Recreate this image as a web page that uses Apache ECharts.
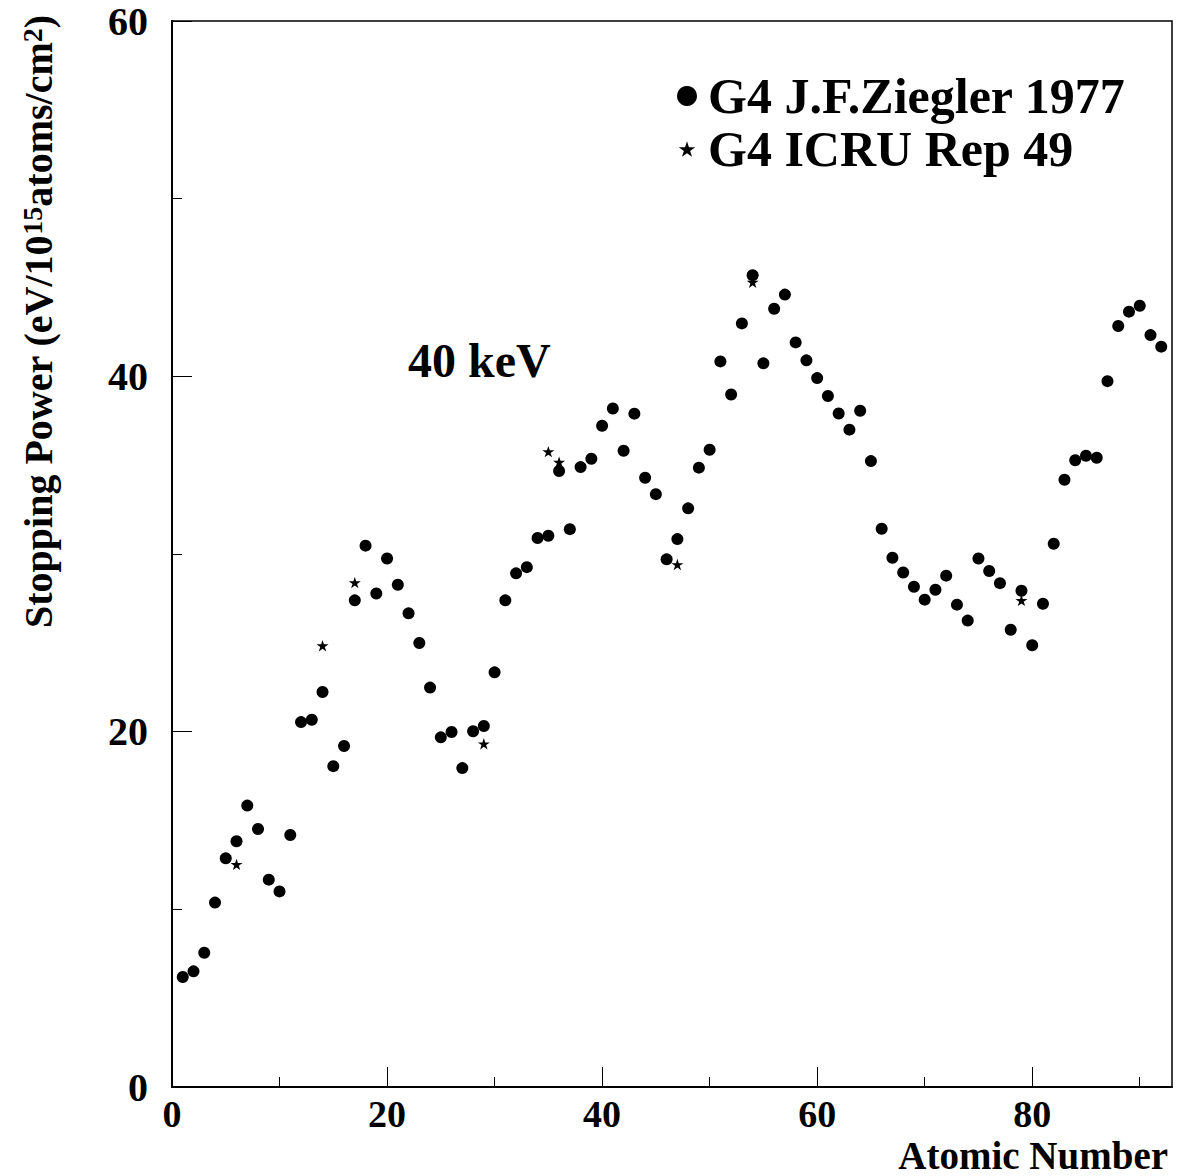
<!DOCTYPE html>
<html>
<head>
<meta charset="utf-8">
<script src="https://cdn.jsdelivr.net/npm/echarts@6/dist/echarts.min.js"></script>
<style>html,body{margin:0;padding:0;background:#fff;}#c{width:1182px;height:1176px;}</style>
</head>
<body>
<div id="c"></div>
<script>
// ---- data ----
const atomicNumbers = [1,2,3,4,5,6,7,8,9,10,11,12,13,14,15,16,17,18,19,20,21,22,23,24,25,26,27,28,29,30,31,32,33,34,35,36,37,38,39,40,41,42,43,44,45,46,47,48,49,50,51,52,53,54,55,56,57,58,59,60,61,62,63,64,65,66,67,68,69,70,71,72,73,74,75,76,77,78,79,80,81,82,83,84,85,86,87,88,89,90,91,92];
const zieglerValues = [6.19,6.51,7.56,10.38,12.87,13.83,15.84,14.52,11.67,11.01,14.18,20.54,20.67,22.23,18.06,19.19,27.39,30.47,27.78,29.75,28.27,26.66,24.99,22.48,19.68,19.98,17.95,20.02,20.32,23.34,27.39,28.91,29.26,30.90,31.03,34.67,31.40,34.89,35.36,37.22,38.19,35.81,37.90,34.29,33.37,29.70,30.84,32.57,34.86,35.87,40.84,38.98,42.98,45.69,40.73,43.80,44.60,41.91,40.90,39.90,38.89,37.91,37.00,38.06,35.23,31.42,29.79,28.96,28.16,27.43,27.99,28.78,27.15,26.25,29.75,29.04,28.36,25.74,27.93,24.86,27.20,30.58,34.18,35.28,35.53,35.42,39.73,42.83,43.64,43.97,42.32,41.67];
const icruZ = [6,14,17,29,35,36,47,54,79];
const icruValues = [12.53,24.84,28.39,19.32,35.76,35.17,29.41,45.30,27.39];
const seriesNames = ['G4 J.F.Ziegler 1977','G4 ICRU Rep 49'];
const xTickValues = [0,20,40,60,80];
const yTickValues = [0,20,40,60];
const xMinorTickValues = [10,30,50,70,90];
const yMinorTickValues = [10,30,50];
const energyLabel = '40 keV';
const xAxisTitle = 'Atomic Number';

const FONT = '"Liberation Serif", "DejaVu Serif", serif';
const starBody = 'M50 0 L61.23 34.55 L97.55 34.55 L68.17 55.9 L79.39 90.45 L50 69.1 L20.61 90.45 L31.83 55.9 L2.45 34.55 L38.77 34.55 Z';
const starPath = 'path://' + starBody;
const starLegendPath = 'path://M-8 -10 M108 100 ' + starBody;

const zieglerData = atomicNumbers.map((z, i) => [z, zieglerValues[i]]);
const icruData = icruZ.map((z, i) => [z, icruValues[i]]);

const chart = echarts.init(document.getElementById('c'), null, {renderer: 'svg'});
const yLabelStyle = {fontFamily: FONT, fontWeight: 'bold', fontSize: 40, lineHeight: 28, color: '#000'};
const xLabelStyle = {fontFamily: FONT, fontWeight: 'bold', fontSize: 38, lineHeight: 28, color: '#000'};

chart.setOption({
  animation: false,
  backgroundColor: '#fff',
  grid: {left: 172, right: 10, top: 21, bottom: 89, show: true, borderColor: '#000', borderWidth: 1.5, containLabel: false},
  xAxis: [
    {type: 'value', min: 0, max: 93, position: 'bottom',
     axisLine: {show: true, lineStyle: {color: '#000', width: 2}},
     axisTick: {show: true, inside: true, length: 20, lineStyle: {color: '#000', width: 1}, customValues: xTickValues},
     axisLabel: Object.assign({margin: 13, customValues: xTickValues}, xLabelStyle),
     splitLine: {show: false}},
    {type: 'value', min: 0, max: 93, position: 'bottom', gridIndex: 0,
     axisLine: {show: false},
     axisTick: {show: true, inside: true, length: 10, lineStyle: {color: '#000', width: 1}, customValues: xMinorTickValues},
     axisLabel: {show: false},
     splitLine: {show: false}}
  ],
  yAxis: [
    {type: 'value', min: 0, max: 60, position: 'left',
     axisLine: {show: true, lineStyle: {color: '#000', width: 2}},
     axisTick: {show: true, inside: true, length: 20, lineStyle: {color: '#000', width: 1}, customValues: yTickValues},
     axisLabel: Object.assign({margin: 24, customValues: yTickValues}, yLabelStyle),
     splitLine: {show: false}},
    {type: 'value', min: 0, max: 60, position: 'left',
     axisLine: {show: false},
     axisTick: {show: true, inside: true, length: 10, lineStyle: {color: '#000', width: 1}, customValues: yMinorTickValues},
     axisLabel: {show: false},
     splitLine: {show: false}}
  ],
  legend: {
    orient: 'vertical', left: 672, top: 66, itemWidth: 20, itemHeight: 20, itemGap: 3,
    selectedMode: false,
    itemStyle: {opacity: 1},
    textStyle: {fontFamily: FONT, fontWeight: 'bold', fontSize: 50, lineHeight: 50, color: '#000', padding: [0, 0, 0, 6]},
    data: [{name: seriesNames[0], icon: 'circle'}, {name: seriesNames[1], icon: starLegendPath}]
  },
  series: [
    {name: seriesNames[1], type: 'scatter', xAxisIndex: 0, yAxisIndex: 0, data: icruData,
     symbol: starPath, symbolKeepAspect: true, symbolSize: 12, itemStyle: {color: '#000', opacity: 1}, z: 2},
    {name: seriesNames[0], type: 'scatter', xAxisIndex: 0, yAxisIndex: 0, data: zieglerData,
     symbol: 'circle', symbolSize: 12, itemStyle: {color: '#000', opacity: 1}, z: 3}
  ],
  graphic: [
    {type: 'text', x: 408, y: 360, style: {text: energyLabel, fontFamily: FONT, fontWeight: 'bold', fontSize: 48, fill: '#000', align: 'left', verticalAlign: 'middle'}},
    {type: 'text', x: 1168, y: 1155, style: {text: xAxisTitle, fontFamily: FONT, fontWeight: 'bold', fontSize: 39, lineHeight: 28, fill: '#000', align: 'right', verticalAlign: 'middle'}},
    {type: 'text', x: 38, y: 628, rotation: Math.PI / 2,
     style: {text: 'Stopping Power (eV/10{sup|15}atoms/cm{sup|2})', fontFamily: FONT, fontWeight: 'bold', fontSize: 40, fill: '#000', align: 'left', verticalAlign: 'middle',
       rich: {sup: {fontFamily: FONT, fontWeight: 'bold', fontSize: 28, fill: '#000', verticalAlign: 'top', lineHeight: 40}}}}
  ]
});
</script>
</body>
</html>
